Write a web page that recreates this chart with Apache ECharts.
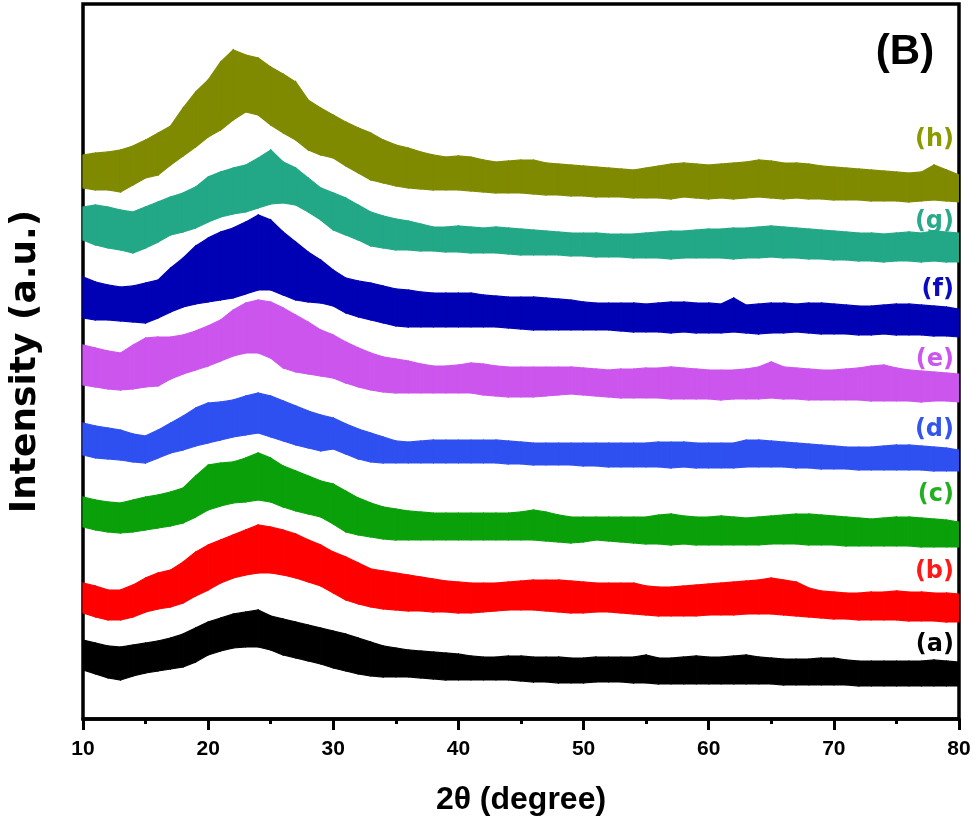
<!DOCTYPE html>
<html>
<head>
<meta charset="utf-8">
<script src="https://cdn.jsdelivr.net/npm/echarts@6/dist/echarts.min.js"></script>
<style>
html,body{margin:0;padding:0;background:#fff;}
#chart{width:975px;height:825px;}
</style>
</head>
<body>
<div id="chart"></div>
<script>
// 2θ positions (degree)
const twoTheta = [10,11,12,13,14,15,16,17,18,19,20,21,22,23,24,25,26,27,28,29,30,31,32,33,34,35,36,37,38,39,40,41,42,43,44,45,46,47,48,49,50,51,52,53,54,55,56,57,58,59,60,61,62,63,64,65,66,67,68,69,70,71,72,73,74,75,76,77,78,79,80];

// Upper / lower envelopes of each noisy, vertically offset pattern (a.u.)
const aUpper = [77,74,71,70,72,74,76,79,83,89,95,99,103,105,107,101,98,95,92,89,86,83,79,75,71,69,67,66,65,64,63,61,60,60,61,61,60,60,60,59,59,60,60,60,60,62,59,59,60,61,60,60,61,62,60,59,58,58,58,59,59,57,56,56,56,56,56,56,57,56,55];
const aLower = [47,43,39,37,41,44,46,48,50,55,62,66,69,70,70,67,62,59,56,53,49,46,43,41,40,40,40,39,38,37,37,37,37,37,37,36,35,35,34,34,34,35,35,35,34,34,33,33,33,33,33,33,33,33,33,33,32,32,32,32,32,32,31,31,31,31,31,31,31,31,31];

const bUpper = [134,131,127,127,132,139,144,147,155,165,172,177,182,187,192,190,187,183,177,172,165,160,154,148,146,144,142,140,138,136,135,134,134,134,135,136,137,137,137,136,135,134,134,134,134,131,130,130,131,132,133,134,135,136,137,139,137,135,129,126,125,124,124,125,125,126,125,125,124,124,123];
const bLower = [104,100,97,97,100,105,108,110,114,121,127,134,139,142,144,144,142,139,135,131,124,117,113,110,108,107,106,106,105,105,104,104,105,106,107,107,107,106,105,104,104,105,105,104,103,102,101,101,101,101,102,102,102,103,103,103,102,101,100,99,98,98,97,97,97,97,96,96,96,95,95];

const cUpper = [220,217,215,214,217,220,222,225,229,241,252,254,255,259,264,259,251,246,241,236,233,226,219,214,210,208,206,205,204,204,204,204,204,204,204,205,207,205,202,200,200,200,200,200,200,200,202,203,201,200,200,201,200,199,200,201,202,203,203,202,201,200,199,198,199,200,200,199,198,197,195];
const cLower = [190,187,185,184,185,187,189,191,194,200,207,211,214,215,217,215,210,206,203,200,193,185,182,180,178,177,177,177,177,177,177,177,177,177,177,177,177,176,175,174,175,177,176,175,174,173,173,172,173,172,172,172,172,172,172,173,173,173,172,172,172,171,171,171,171,171,171,170,170,170,170];

const dUpper = [294,291,289,287,283,281,287,294,301,309,314,315,317,321,324,321,316,311,306,302,299,293,288,284,280,276,275,276,277,277,277,277,277,277,276,275,274,274,274,274,274,274,274,274,274,274,275,275,275,274,274,274,274,277,277,276,275,274,273,272,271,270,270,270,271,272,272,271,270,269,267];
const dLower = [262,259,258,257,255,254,259,264,267,271,274,277,280,282,284,280,276,272,269,266,268,263,258,255,254,254,254,254,254,254,254,254,254,254,253,253,252,252,252,252,251,251,250,250,250,250,250,249,250,249,249,249,249,250,250,250,250,249,249,248,248,248,247,247,247,247,247,247,246,246,246];

const eUpper = [372,369,366,364,372,379,380,380,382,386,391,397,407,414,417,415,409,402,395,387,382,375,369,364,360,358,356,353,351,351,352,354,353,351,350,350,350,350,350,350,349,348,347,348,348,349,349,350,349,348,347,347,347,348,350,355,350,349,348,347,347,348,349,351,352,349,347,346,345,344,343];
const eLower = [332,330,328,327,328,330,331,338,343,347,351,356,361,364,364,359,349,345,343,341,339,334,330,327,325,324,324,324,324,324,324,324,322,321,320,320,320,321,322,323,322,321,320,319,319,319,319,318,318,318,318,317,318,318,318,319,318,318,317,317,317,317,317,316,316,316,316,315,316,316,315];

const fUpper = [440,435,432,430,431,434,437,449,459,471,479,485,489,495,502,497,485,475,465,457,447,439,436,434,431,428,427,425,424,424,424,424,422,421,420,420,420,419,418,417,415,414,414,414,414,413,414,415,415,414,414,413,419,412,413,414,414,413,414,414,413,412,411,411,412,413,413,412,411,410,408];
const fLower = [399,397,397,396,395,394,399,405,410,413,415,417,419,423,427,427,422,417,415,414,411,404,400,397,394,391,390,390,390,390,390,390,390,390,389,388,387,387,387,387,387,387,387,386,385,385,385,384,385,384,384,384,385,384,383,384,384,385,384,383,383,383,382,382,383,382,382,382,381,381,380];

const gUpper = [510,512,510,507,505,510,515,520,524,530,540,545,549,552,559,567,555,549,539,529,524,519,512,505,501,498,496,493,490,490,491,490,489,490,489,488,487,486,485,484,484,484,483,483,483,484,485,486,486,487,488,488,489,489,490,491,490,489,488,487,486,485,484,484,483,484,485,484,486,485,484];
const gLower = [477,472,469,467,464,469,475,482,485,489,495,500,503,505,509,513,514,512,505,497,487,482,477,471,469,467,467,466,466,465,465,464,464,464,463,462,462,462,462,461,461,460,460,460,459,459,459,458,459,459,459,459,458,459,459,460,459,459,458,458,457,457,456,456,455,456,456,455,456,455,455];

const hUpper = [562,564,565,567,571,577,584,591,609,625,637,655,667,662,659,650,643,635,617,609,602,595,589,584,577,572,569,565,562,560,561,560,557,555,556,557,557,554,553,552,551,550,549,548,547,549,551,553,554,553,552,553,554,555,557,556,554,554,553,551,550,549,548,547,546,545,544,545,552,547,542];
const hLower = [529,527,527,525,532,539,542,552,561,570,580,587,597,605,602,592,584,577,567,562,559,551,544,537,534,531,529,528,527,527,527,526,525,524,524,524,523,522,522,521,521,520,520,520,519,519,519,518,520,519,518,519,518,519,520,519,518,519,518,518,517,517,517,516,516,516,515,516,517,516,515];

const sampleNames = ['(a)','(b)','(c)','(d)','(e)','(f)','(g)','(h)'];
const sampleColors = ['#000000','#ff0000','#0aa00a','#2f50f0','#cc55ee','#0000b4','#22a886','#7f8a00'];
const labelColors = ['#000000','#ff1a1a','#22b022','#3355ee','#cc55ee','#0a0ac0','#2aaa8a','#8a9a00'];
// label anchor heights (a.u.) beside each pattern
const labelLevels = [72,145,222,287,357,427,495,577];
const uppers = [aUpper,bUpper,cUpper,dUpper,eUpper,fUpper,gUpper,hUpper];
const lowers = [aLower,bLower,cLower,dLower,eLower,fLower,gLower,hLower];

function bandRenderer(color) {
  return function (params, api) {
    const j = params.dataIndexInside;
    if (j >= params.dataInsideLength - 1) return null;
    const x0 = api.value(0, j), l0 = api.value(1, j), u0 = api.value(2, j);
    const x1 = api.value(0, j + 1), l1 = api.value(1, j + 1), u1 = api.value(2, j + 1);
    const pts = [api.coord([x0, l0]), api.coord([x1, l1]), api.coord([x1, u1]), api.coord([x0, u0])];
    return {
      type: 'polygon',
      shape: {points: pts},
      style: {fill: color, stroke: color, lineWidth: 1.2}
    };
  };
}

const chart = echarts.init(document.getElementById('chart'), null, {renderer:'canvas'});
const series = [];
for (let i = 0; i < 8; i++) {
  const lo = lowers[i], up = uppers[i];
  series.push({
    type:'custom', name: sampleNames[i], silent:true,
    renderItem: bandRenderer(sampleColors[i]),
    encode:{x:0, y:[1,2]},
    data: twoTheta.map((x,j)=>[x, lo[j], up[j]]),
    clip: true
  });
}

chart.setOption({
  animation:false,
  backgroundColor:'#ffffff',
  grid:{left:77, right:16, top:4, bottom:106, show:true, borderColor:'#000', borderWidth:3.5, backgroundColor:'transparent'},
  xAxis:{
    type:'value', min:10, max:80, interval:10,
    name:'2θ (degree)', nameLocation:'middle', nameGap:65,
    nameTextStyle:{fontFamily:'Liberation Sans', fontWeight:'bold', fontSize:32, color:'#000'},
    axisLine:{show:true, onZero:false, lineStyle:{color:'#000', width:3.5}},
    axisTick:{show:true, inside:false, length:11, lineStyle:{color:'#000', width:3}},
    minorTick:{show:true, splitNumber:2, length:5, lineStyle:{color:'#000', width:3}},
    axisLabel:{fontFamily:'Liberation Sans', fontWeight:'bold', fontSize:21, color:'#000', margin:20,
               alignMinLabel:'center', alignMaxLabel:'center'},
    splitLine:{show:false}, minorSplitLine:{show:false}
  },
  yAxis:{
    type:'value', min:-2, max:713,
    name:'Intensity (a.u.)', nameLocation:'middle', nameGap:39,
    nameTextStyle:{fontFamily:'DejaVu Sans', fontWeight:'bold', fontSize:36, color:'#000'},
    axisLine:{show:false}, axisTick:{show:false}, axisLabel:{show:false}, splitLine:{show:false}
  },
  series: series
});

const graphics = [{
  type:'text', x:905, y:52,
  style:{text:'(B)', fill:'#000', font:'bold 42px "Liberation Sans"', textAlign:'center', textVerticalAlign:'middle'}
}];
for (let i = 0; i < 8; i++) {
  const p = chart.convertToPixel({gridIndex:0}, [79.6, labelLevels[i]]);
  graphics.push({
    type:'text', x:p[0], y:p[1],
    style:{text: sampleNames[i], fill: labelColors[i], font:'bold 24px "DejaVu Sans"', textAlign:'right', textVerticalAlign:'middle'}
  });
}
chart.setOption({graphic: graphics});
</script>
</body>
</html>
